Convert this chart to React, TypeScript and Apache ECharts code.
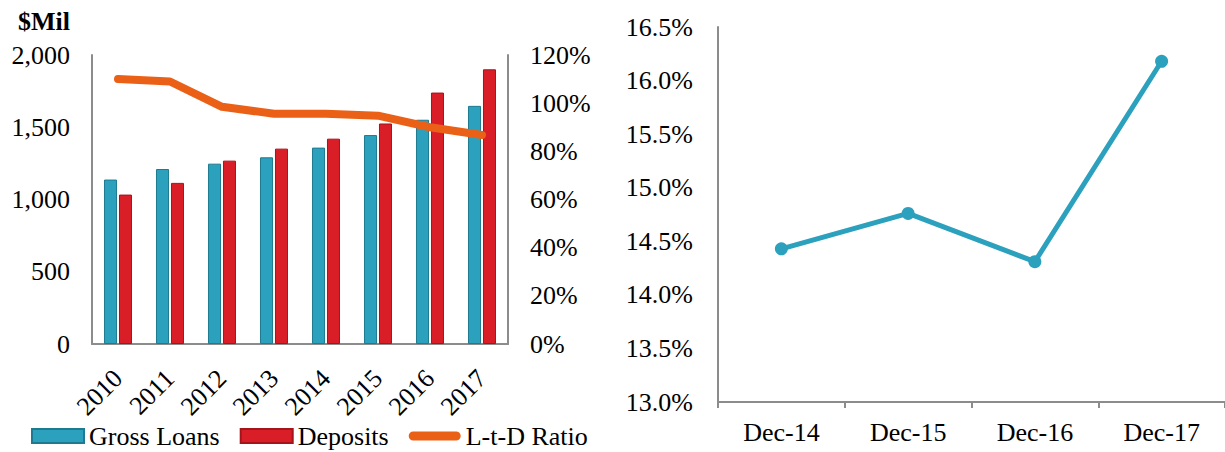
import React, { useEffect, useRef } from "react";
import * as echarts from "echarts";

const years = ["2010", "2011", "2012", "2013", "2014", "2015", "2016", "2017"];
const grossLoans = [1138, 1211, 1248, 1292, 1359, 1446, 1552, 1648];
const deposits = [1034, 1115, 1269, 1352, 1421, 1526, 1740, 1901];
const ltdRatio = [110.0, 109.0, 98.5, 95.6, 95.6, 94.8, 90.0, 86.8];

const periods = ["Dec-14", "Dec-15", "Dec-16", "Dec-17"];
const capitalRatio = [14.43, 14.76, 14.31, 16.18];

const FONT = "'Liberation Serif', 'Times New Roman', serif";
const AXIS_GRAY = "#8c8c8c";
const TEAL = "#2BA1BE";
const TEAL_BORDER = "#1E7A90";
const RED = "#D91E28";
const RED_BORDER = "#A3141B";
const ORANGE = "#EB6017";

export default function App() {
  const ref = useRef<HTMLDivElement>(null);

  useEffect(() => {
    if (!ref.current) return;
    const chart = echarts.init(ref.current, null, { renderer: "svg" });
    const labelStyle = { fontFamily: FONT, fontSize: 26, color: "#000" };

    chart.setOption({
      animation: false,
      backgroundColor: "#fff",
      title: {
        text: "$Mil",
        left: 13,
        top: 3,
        textStyle: { fontFamily: FONT, fontSize: 26, fontWeight: "bold", color: "#000" },
      },
      legend: {
        left: 26,
        top: 418,
        itemWidth: 52,
        itemHeight: 14,
        itemGap: 20,
        textStyle: { ...labelStyle },
        data: [
          { name: "Gross Loans", icon: "rect" },
          { name: "Deposits", icon: "rect" },
          {
            name: "L-t-D Ratio",
            icon: "path://M5,0 L53,0 A5,5 0 0 1 53,10 L5,10 A5,5 0 0 1 5,0 Z",
            itemStyle: { color: ORANGE, borderWidth: 0 },
          },
        ],
      },
      grid: [
        { left: 92, top: 55, width: 416, height: 289 },
        { left: 718, top: 27, width: 510, height: 375 },
      ],
      xAxis: [
        {
          type: "category",
          gridIndex: 0,
          data: years,
          axisLine: { show: true, lineStyle: { color: AXIS_GRAY, width: 2 } },
          axisTick: { show: false },
          axisLabel: { ...labelStyle, rotate: 45, margin: 30 },
        },
        {
          type: "category",
          gridIndex: 1,
          data: periods,
          boundaryGap: true,
          axisLine: { show: true, lineStyle: { color: AXIS_GRAY, width: 2 } },
          axisTick: { show: true, length: 6, lineStyle: { color: AXIS_GRAY, width: 2 } },
          axisLabel: { ...labelStyle, margin: 17 },
        },
      ],
      yAxis: [
        {
          type: "value",
          gridIndex: 0,
          min: 0,
          max: 2000,
          interval: 500,
          axisLine: { show: true, lineStyle: { color: AXIS_GRAY, width: 2 } },
          axisTick: { show: false },
          splitLine: { show: false },
          axisLabel: {
            ...labelStyle,
            margin: 22,
            formatter: (v: number) => v.toLocaleString("en-US"),
          },
        },
        {
          type: "value",
          gridIndex: 0,
          position: "right",
          min: 0,
          max: 120,
          interval: 20,
          axisLine: { show: true, lineStyle: { color: AXIS_GRAY, width: 2 } },
          axisTick: { show: false },
          splitLine: { show: false },
          axisLabel: { ...labelStyle, margin: 22, formatter: "{value}%" },
        },
        {
          type: "value",
          gridIndex: 1,
          min: 13,
          max: 16.5,
          interval: 0.5,
          axisLine: { show: true, lineStyle: { color: AXIS_GRAY, width: 2 } },
          axisTick: { show: false },
          splitLine: { show: false },
          axisLabel: {
            ...labelStyle,
            margin: 25,
            formatter: (v: number) => v.toFixed(1) + "%",
          },
        },
      ],
      series: [
        {
          name: "Gross Loans",
          type: "bar",
          xAxisIndex: 0,
          yAxisIndex: 0,
          data: grossLoans,
          barWidth: 13,
          barGap: "15%",
          itemStyle: { color: TEAL, borderColor: TEAL_BORDER, borderWidth: 1 },
        },
        {
          name: "Deposits",
          type: "bar",
          xAxisIndex: 0,
          yAxisIndex: 0,
          data: deposits,
          barWidth: 13,
          barGap: "15%",
          itemStyle: { color: RED, borderColor: RED_BORDER, borderWidth: 1 },
        },
        {
          name: "L-t-D Ratio",
          type: "line",
          xAxisIndex: 0,
          yAxisIndex: 1,
          data: ltdRatio,
          symbol: "none",
          itemStyle: { color: ORANGE },
          lineStyle: { color: ORANGE, width: 8, cap: "round", join: "round" },
          z: 5,
        },
        {
          name: "Capital Ratio",
          type: "line",
          xAxisIndex: 1,
          yAxisIndex: 2,
          data: capitalRatio,
          symbol: "circle",
          symbolSize: 13,
          itemStyle: { color: TEAL },
          lineStyle: { color: TEAL, width: 5 },
        },
      ],
    });

    return () => {
      chart.dispose();
    };
  }, []);

  return (
    <div
      ref={ref}
      style={{ position: "fixed", left: 0, top: 0, width: 1225, height: 452 }}
    />
  );
}
